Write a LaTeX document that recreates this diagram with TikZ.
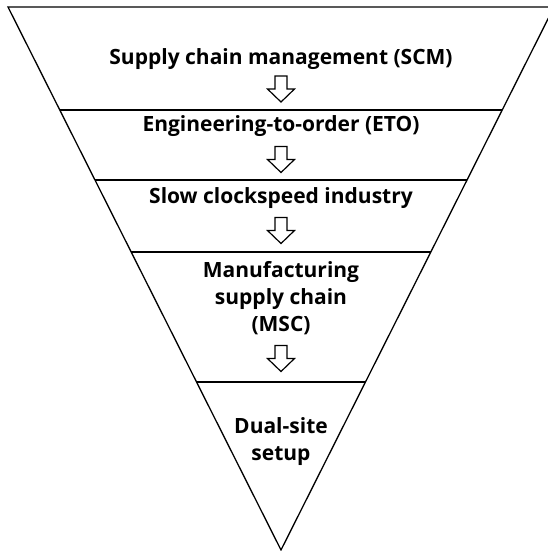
\documentclass[tikz,border=0pt]{standalone}
\usepackage{fontspec}
\setmainfont{Open Sans}
\usetikzlibrary{calc}

\begin{document}
\begin{tikzpicture}[
  x=1pt, y=-1pt,
  line width=1.3pt,
  layer/.style={font=\bfseries\fontsize{21}{27}\selectfont, align=center, inner sep=0pt},
  downarrow/.pic={\draw[line width=1.2pt, fill=white, line join=miter]
    (-6,-13) -- (6,-13) -- (6,0) -- (13.5,0) -- (0,13) -- (-13.5,0) -- (-6,0) -- cycle;},
]

\useasboundingbox (0,0) rectangle (547,551);

\def\ytop{7}
\def\depth{543}

\coordinate (TL) at (8,\ytop);
\coordinate (TR) at (554,\ytop);
\coordinate (A)  at (281,550);

\draw[line join=miter] (TL) -- (TR) -- (A) -- cycle;

% layer boundaries
\foreach \y in {110,180,252,382}
  \draw ($(TL)!{(\y-\ytop)/\depth}!(A)$) -- ($(TR)!{(\y-\ytop)/\depth}!(A)$);

\node[layer, anchor=base] (scm)  at (281,64)  {Supply chain management (SCM)};
\node[layer, anchor=base] (eto)  at (281,131) {Engineering-to-order (ETO)};
\node[layer, anchor=base] (slow) at (281,203) {Slow clockspeed industry};
\node[layer]              (msc)  at (281,298) {Manufacturing\\supply chain\\(MSC)};
\node[layer]              (dual) at (281,442) {Dual-site\\setup};

\pic at (281,89)    {downarrow};
\pic at (281,159.5) {downarrow};
\pic at (281,230.5) {downarrow};
\pic at (281,358.5) {downarrow};

\end{tikzpicture}
\end{document}
